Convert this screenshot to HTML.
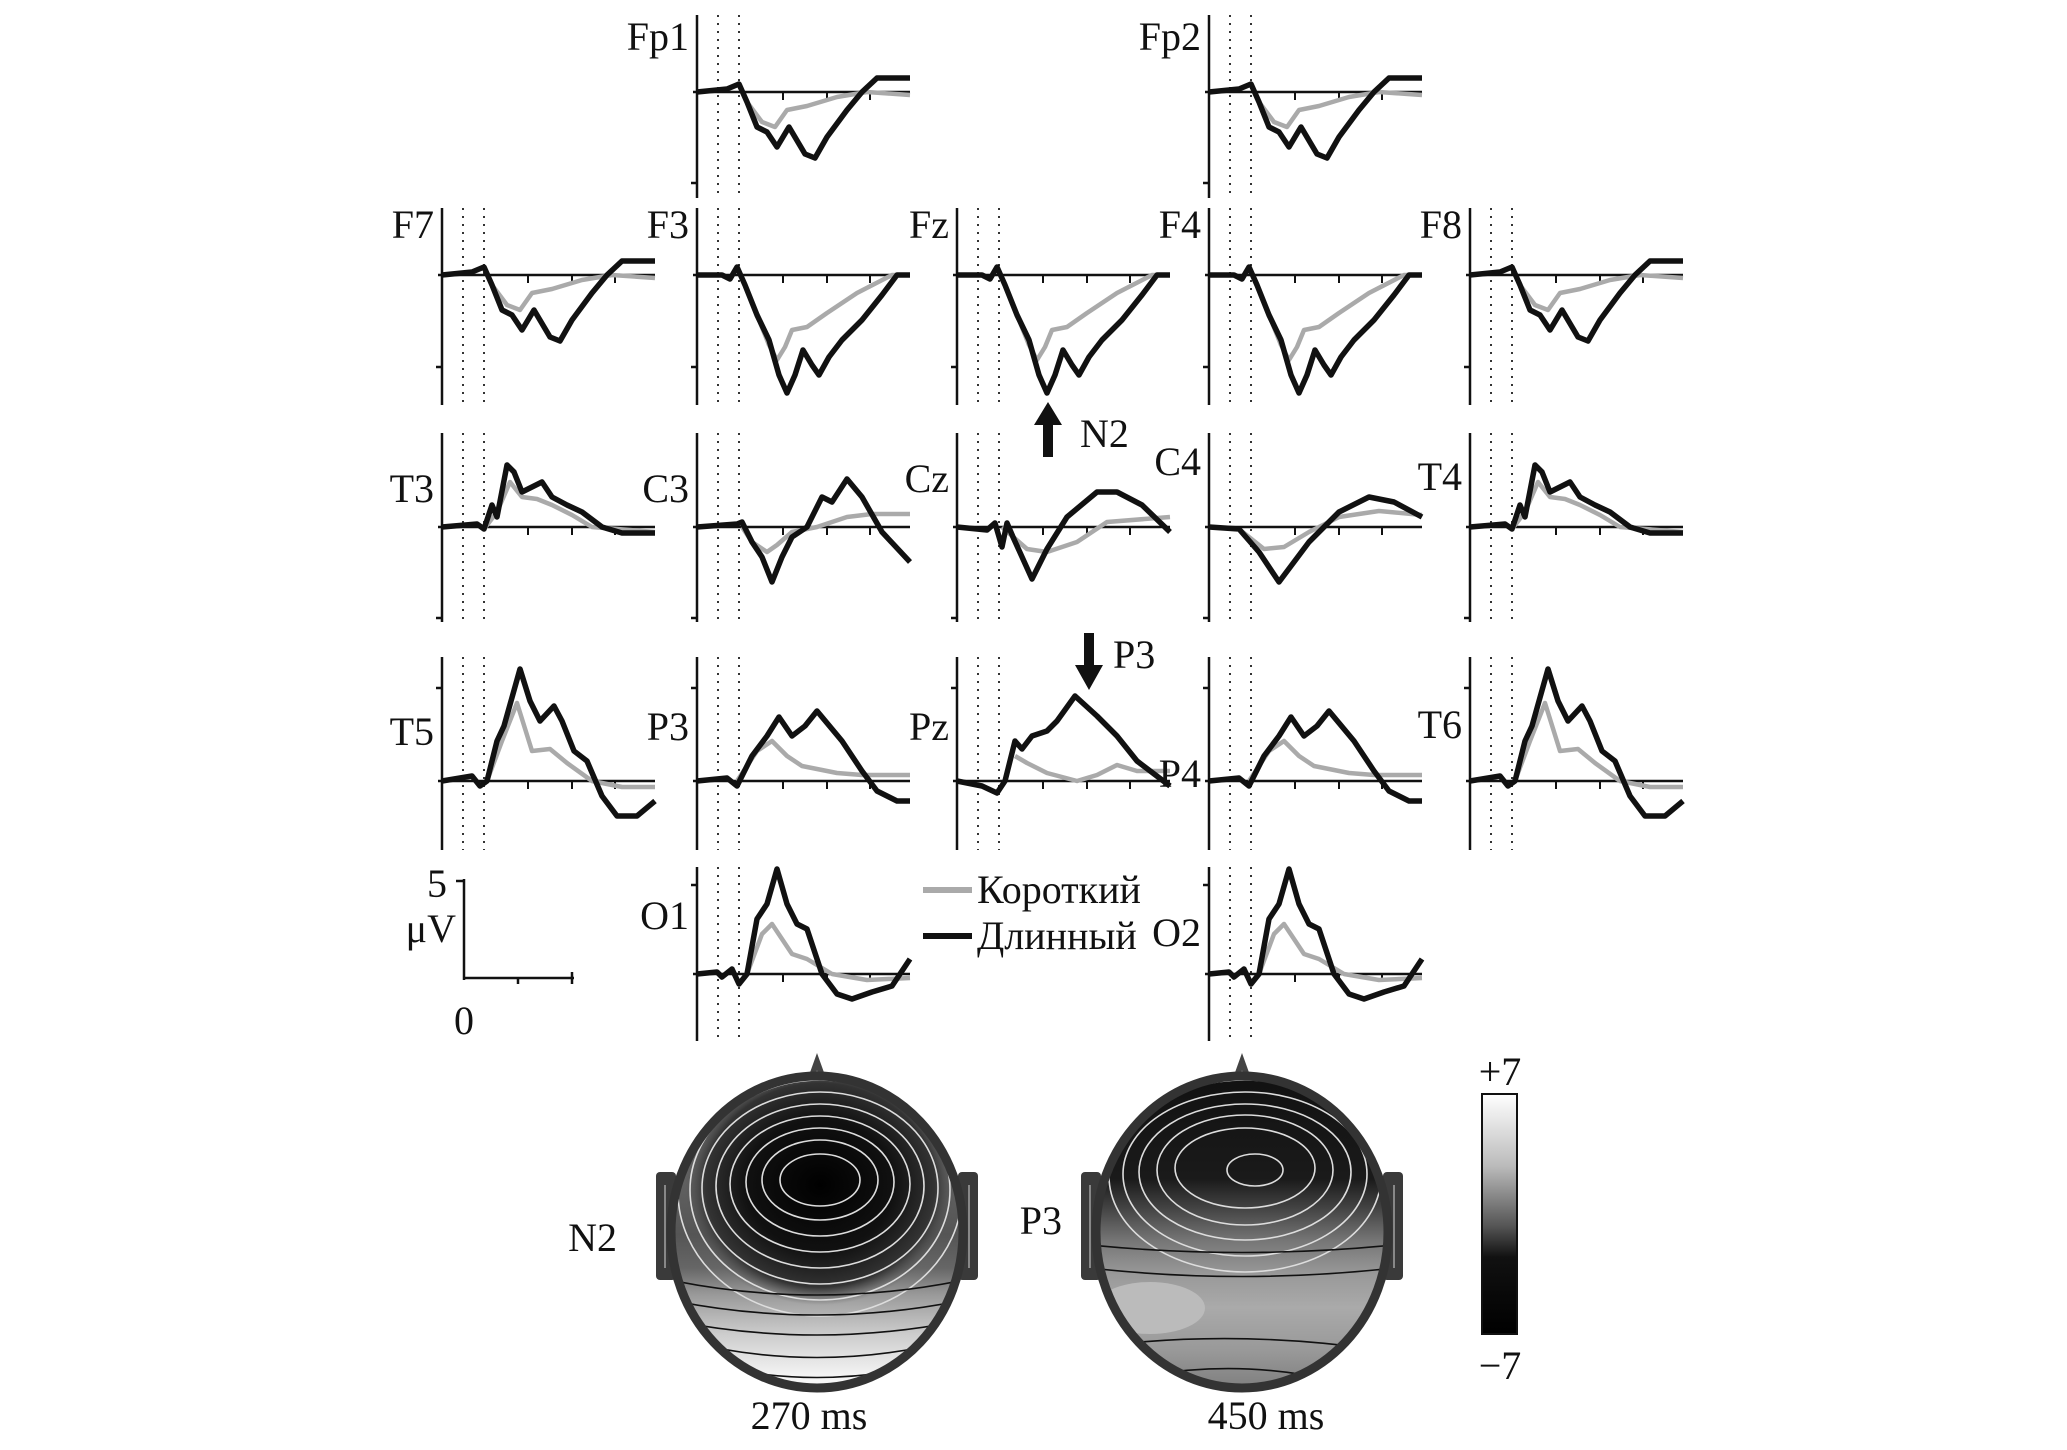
<!DOCTYPE html>
<html><head><meta charset="utf-8"><style>
html,body{margin:0;padding:0;background:#fff}
svg{display:block}
text{font-family:"Liberation Serif",serif;fill:#111}
</style></head><body>
<svg id="s" width="2067" height="1450" viewBox="0 0 2067 1450" xmlns="http://www.w3.org/2000/svg">
<defs>
<linearGradient id="h1" x1="0" y1="0" x2="0" y2="1">
<stop offset="0" stop-color="#777"/><stop offset="0.5" stop-color="#555"/><stop offset="0.6" stop-color="#666"/><stop offset="0.68" stop-color="#999"/><stop offset="0.8" stop-color="#ccc"/><stop offset="0.92" stop-color="#f2f2f2"/><stop offset="1" stop-color="#fff"/>
</linearGradient>
<radialGradient id="r1" cx="0.5" cy="0.5" r="0.5">
<stop offset="0" stop-color="#000"/><stop offset="0.55" stop-color="#111"/><stop offset="0.85" stop-color="#333"/><stop offset="1" stop-color="#555" stop-opacity="0"/>
</radialGradient>
<linearGradient id="h2" x1="0" y1="0" x2="0" y2="1">
<stop offset="0" stop-color="#111"/><stop offset="0.33" stop-color="#1a1a1a"/><stop offset="0.42" stop-color="#444"/><stop offset="0.52" stop-color="#777"/><stop offset="0.62" stop-color="#999"/><stop offset="0.72" stop-color="#aaa"/><stop offset="0.85" stop-color="#999"/><stop offset="1" stop-color="#777"/>
</linearGradient>
<linearGradient id="cb" x1="0" y1="0" x2="0" y2="1">
<stop offset="0" stop-color="#fff"/><stop offset="0.3" stop-color="#bbb"/><stop offset="0.55" stop-color="#555"/><stop offset="0.68" stop-color="#111"/><stop offset="1" stop-color="#000"/>
</linearGradient>
<clipPath id="c1"><ellipse cx="817" cy="1232" rx="146" ry="156"/></clipPath>
<clipPath id="c2"><ellipse cx="1242" cy="1232" rx="146" ry="156"/></clipPath>
</defs>
<g id="g"></g>

<g stroke="#111" stroke-width="2.5" fill="none">
<line x1="464" y1="879" x2="464" y2="980"/><line x1="456" y1="881" x2="464" y2="881"/>
<line x1="464" y1="978" x2="574" y2="978"/><line x1="518" y1="978" x2="518" y2="984"/><line x1="572" y1="972" x2="572" y2="984"/>
</g>
<text x="427" y="897" font-size="40">5</text>
<text x="456" y="942" font-size="40" text-anchor="end">μV</text>
<text x="464" y="1034" font-size="40" text-anchor="middle">0</text>

<line x1="923" y1="890" x2="972" y2="890" stroke="#aaa" stroke-width="6"/>
<text x="977" y="903" font-size="40">Короткий</text>
<line x1="923" y1="936" x2="972" y2="936" stroke="#111" stroke-width="6"/>
<text x="977" y="949" font-size="40">Длинный</text>

<polygon points="1048,402 1034,425 1043,425 1043,457 1053,457 1053,425 1062,425" fill="#111"/>
<text x="1080" y="447" font-size="40">N2</text>
<polygon points="1089,690 1075,665 1084,665 1084,633 1094,633 1094,665 1103,665" fill="#111"/>
<text x="1113" y="668" font-size="40">P3</text>

<g>
<polygon points="803,1092 817,1053 831,1092" fill="#444"/>
<polygon points="811,1088 817,1070 823,1088" fill="#999"/>
<rect x="656" y="1172" width="20" height="108" rx="4" fill="#3a3a3a"/><line x1="665" y1="1185" x2="665" y2="1268" stroke="#888" stroke-width="2"/>
<rect x="958" y="1172" width="20" height="108" rx="4" fill="#3a3a3a"/><line x1="969" y1="1185" x2="969" y2="1268" stroke="#888" stroke-width="2"/>
<g clip-path="url(#c1)">
<rect x="660" y="1070" width="320" height="330" fill="url(#h1)"/>
<ellipse cx="820" cy="1185" rx="135" ry="120" fill="url(#r1)"/>
<g fill="none" stroke="#ddd" stroke-width="1.6">
<ellipse cx="820" cy="1180" rx="40" ry="26"/><ellipse cx="820" cy="1180" rx="58" ry="40"/><ellipse cx="820" cy="1182" rx="74" ry="54"/><ellipse cx="820" cy="1184" rx="90" ry="68"/><ellipse cx="820" cy="1186" rx="104" ry="82"/><ellipse cx="820" cy="1188" rx="118" ry="96"/><ellipse cx="820" cy="1190" rx="130" ry="110"/><ellipse cx="820" cy="1192" rx="142" ry="124"/>
</g>
<g fill="none" stroke="#111" stroke-width="1.6">
<path d="M670 1300 Q817 1330 964 1300"/><path d="M670 1320 Q817 1350 964 1320"/><path d="M680 1340 Q817 1375 954 1340"/><path d="M690 1360 Q817 1395 944 1360"/><path d="M670 1280 Q817 1310 964 1280"/>
</g>
</g>
<ellipse cx="817" cy="1232" rx="146" ry="156" fill="none" stroke="#333" stroke-width="9"/>
</g>

<g>
<polygon points="1228,1092 1242,1053 1256,1092" fill="#444"/>
<polygon points="1236,1088 1242,1070 1248,1088" fill="#999"/>
<rect x="1081" y="1172" width="20" height="108" rx="4" fill="#3a3a3a"/><line x1="1090" y1="1185" x2="1090" y2="1268" stroke="#888" stroke-width="2"/>
<rect x="1383" y="1172" width="20" height="108" rx="4" fill="#3a3a3a"/><line x1="1394" y1="1185" x2="1394" y2="1268" stroke="#888" stroke-width="2"/>
<g clip-path="url(#c2)">
<rect x="1085" y="1070" width="320" height="330" fill="url(#h2)"/>
<ellipse cx="1150" cy="1308" rx="55" ry="26" fill="#bbb"/>
<g fill="none" stroke="#ddd" stroke-width="1.6">
<ellipse cx="1255" cy="1170" rx="28" ry="16"/><ellipse cx="1245" cy="1168" rx="70" ry="40"/><ellipse cx="1245" cy="1170" rx="88" ry="55"/><ellipse cx="1245" cy="1172" rx="106" ry="68"/><ellipse cx="1245" cy="1174" rx="122" ry="82"/><ellipse cx="1245" cy="1176" rx="136" ry="96"/>
</g>
<g fill="none" stroke="#111" stroke-width="1.6">
<path d="M1090 1245 Q1242 1260 1394 1245"/><path d="M1090 1268 Q1242 1285 1394 1268"/><path d="M1110 1345 Q1242 1330 1380 1350"/><path d="M1150 1375 Q1242 1360 1330 1380"/>
</g>
</g>
<ellipse cx="1242" cy="1232" rx="146" ry="156" fill="none" stroke="#333" stroke-width="9"/>
</g>

<text x="617" y="1251" font-size="40" text-anchor="end">N2</text>
<text x="1062" y="1234" font-size="40" text-anchor="end">P3</text>

<rect x="1482" y="1094" width="35" height="240" fill="url(#cb)" stroke="#111" stroke-width="2"/>
<text x="1500" y="1085" font-size="40" text-anchor="middle">+7</text>
<text x="1500" y="1379" font-size="40" text-anchor="middle">−7</text>

<text x="809" y="1429" font-size="40" text-anchor="middle">270 ms</text>
<text x="1266" y="1429" font-size="40" text-anchor="middle">450 ms</text>
</svg>
<script>
var NS="http://www.w3.org/2000/svg",g=document.getElementById('g');
function el(t,a){var e=document.createElementNS(NS,t);for(var k in a)e.setAttribute(k,a[k]);g.appendChild(e);return e;}
var W={
strong:{b:[[0,0],[25,0],[33,4],[40,-8],[48,10],[60,40],[72,65],[82,100],[90,118],[98,100],[106,75],[115,90],[122,100],[132,82],[145,65],[165,45],[185,20],[200,0],[213,0]],
g:[[48,10],[60,40],[72,70],[80,85],[88,72],[95,55],[110,52],[130,38],[160,18],[195,0],[213,0]]},
weak:{b:[[0,0],[30,-3],[42,-8],[50,10],[60,35],[70,40],[80,55],[92,35],[108,62],[118,66],[130,45],[150,18],[165,0],[180,-14],[213,-14]],
g:[[50,10],[65,30],[78,35],[90,18],[110,14],[140,5],[170,0],[213,3]]},
T:{b:[[0,0],[35,-3],[42,2],[50,-22],[55,-10],[65,-62],[72,-55],[80,-35],[90,-40],[100,-45],[110,-30],[125,-22],[140,-15],[160,0],[180,6],[213,6]],
g:[[42,2],[55,-15],[68,-45],[80,-30],[95,-28],[110,-22],[130,-12],[150,0],[213,5]]},
C3:{b:[[0,0],[40,-3],[45,-5],[55,15],[65,30],[75,55],[85,30],[95,10],[110,0],[125,-30],[135,-25],[150,-48],[165,-30],[185,5],[213,35]],
g:[[45,0],[55,15],[70,25],[80,18],[95,5],[120,0],[150,-10],[175,-13],[213,-13]]},
Cz:{b:[[0,0],[30,3],[38,-4],[45,20],[50,-4],[56,10],[75,52],[90,22],[110,-10],[140,-35],[160,-35],[185,-22],[213,5]],
g:[[45,0],[70,22],[90,25],[120,15],[150,-5],[213,-10]]},
C4:{b:[[0,0],[30,2],[50,25],[70,55],[85,35],[100,15],[130,-15],[160,-30],[185,-25],[213,-10]],
g:[[30,2],[55,22],[75,20],[100,5],[130,-10],[170,-16],[213,-12]]},
T5:{b:[[0,0],[30,-5],[38,5],[45,0],[55,-40],[62,-55],[78,-112],[88,-80],[98,-60],[112,-75],[120,-60],[132,-30],[145,-20],[160,15],[175,35],[195,35],[213,20]],
g:[[45,0],[60,-40],[75,-78],[90,-30],[108,-32],[125,-18],[150,0],[180,6],[213,6]]},
P:{b:[[0,0],[30,-3],[40,5],[55,-25],[70,-45],[82,-64],[95,-45],[108,-55],[120,-70],[145,-40],[165,-10],[180,10],[200,20],[213,20]],
g:[[40,0],[60,-30],[75,-40],[90,-25],[105,-15],[140,-8],[165,-6],[213,-6]]},
Pz:{b:[[0,0],[25,5],[40,12],[48,0],[58,-40],[65,-32],[75,-45],[90,-50],[100,-60],[118,-85],[140,-65],[160,-45],[180,-20],[213,5]],
g:[[58,-25],[70,-18],[90,-8],[120,0],[140,-6],[160,-16],[180,-10],[213,-10]]},
O:{b:[[0,0],[20,-2],[25,3],[35,-5],[42,10],[50,0],[60,-55],[70,-70],[80,-105],[90,-70],[100,-50],[110,-45],[125,0],[140,20],[155,25],[175,18],[195,12],[213,-15]],
g:[[50,0],[65,-40],[75,-50],[85,-35],[95,-20],[110,-15],[135,0],[170,6],[213,4]]}
};
var R={Fp:[15,92,198,183],F:[208,275,405,367],T:[433,527,622,618],P:[657,781,850,688],O:[867,974,1041,885]};
var C=[442,697,957,1209,1470];
var P=[
["Fp1",1,"Fp","weak",50],["Fp2",3,"Fp","weak",50],
["F7",0,"F","weak",238],["F3",1,"F","strong",238],["Fz",2,"F","strong",238],["F4",3,"F","strong",238],["F8",4,"F","weak",238],
["T3",0,"T","T",502],["C3",1,"T","C3",502],["Cz",2,"T","Cz",492],["C4",3,"T","C4",475],["T4",4,"T","T",490],
["T5",0,"P","T5",745],["P3",1,"P","P",740],["Pz",2,"P","Pz",740],["P4",3,"P","P",787],["T6",4,"P","T5",738],
["O1",1,"O","O",929],["O2",3,"O","O",946]];
P.forEach(function(p){
 var x=C[p[1]],r=R[p[2]],w=W[p[3]],top=r[0],y=r[1],bot=r[2];
 el('line',{x1:x+21,y1:top,x2:x+21,y2:bot,stroke:'#333','stroke-width':2,'stroke-dasharray':'2 6'});
 el('line',{x1:x+42,y1:top,x2:x+42,y2:bot,stroke:'#333','stroke-width':2,'stroke-dasharray':'2 6'});
 el('line',{x1:x,y1:top,x2:x,y2:bot,stroke:'#111','stroke-width':2.5});
 el('line',{x1:x-6,y1:r[3],x2:x,y2:r[3],stroke:'#111','stroke-width':2.5});
 el('line',{x1:x-4,y1:y,x2:x+213,y2:y,stroke:'#111','stroke-width':2.5});
 [86,130,173].forEach(function(t){el('line',{x1:x+t,y1:y,x2:x+t,y2:y+8,stroke:'#111','stroke-width':2});});
 var f=function(a){return a.map(function(q){return (x+q[0])+','+(y+q[1]);}).join(' ');};
 el('polyline',{points:f(w.g),fill:'none',stroke:'#aaa','stroke-width':4.5,'stroke-linejoin':'round'});
 el('polyline',{points:f(w.b),fill:'none',stroke:'#111','stroke-width':5.5,'stroke-linejoin':'round'});
 var t=el('text',{x:x-8,y:p[4],'font-size':40,'text-anchor':'end'});t.textContent=p[0];
});
</script>
</body></html>
